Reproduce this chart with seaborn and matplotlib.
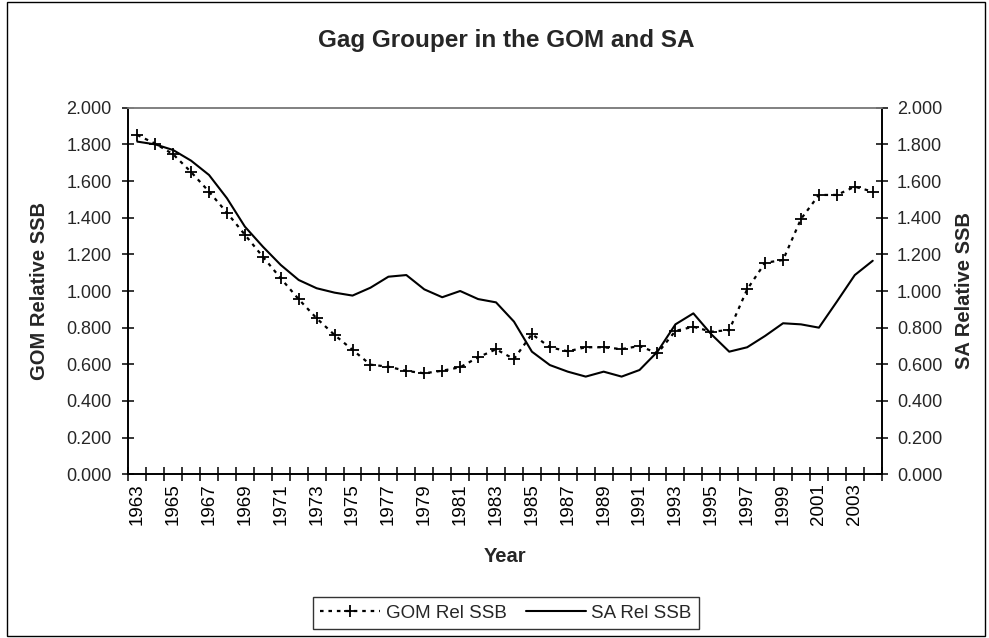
import numpy as np
import pandas as pd
import matplotlib
matplotlib.use("Agg")
import matplotlib.pyplot as plt
from matplotlib.lines import Line2D
from matplotlib.patches import Rectangle
from matplotlib.ticker import FixedLocator, FixedFormatter
import seaborn as sns

# Relative spawning stock biomass of gag grouper, Gulf of Mexico vs South Atlantic
years = list(range(1963, 2005))
gom_rel_ssb = [1.851, 1.804, 1.746, 1.649, 1.542, 1.427, 1.307, 1.187, 1.069, 0.955,
               0.851, 0.760, 0.679, 0.598, 0.587, 0.564, 0.551, 0.565, 0.584, 0.638,
               0.682, 0.629, 0.765, 0.693, 0.671, 0.693, 0.693, 0.683, 0.700, 0.660,
               0.782, 0.805, 0.778, 0.787, 1.009, 1.154, 1.169, 1.393, 1.524, 1.524,
               1.569, 1.542]
sa_rel_ssb = [1.815, 1.800, 1.769, 1.711, 1.633, 1.506, 1.351, 1.242, 1.142, 1.060,
              1.015, 0.991, 0.975, 1.018, 1.078, 1.087, 1.009, 0.966, 1.000, 0.956,
              0.938, 0.833, 0.669, 0.596, 0.560, 0.533, 0.560, 0.533, 0.569, 0.669,
              0.818, 0.878, 0.764, 0.669, 0.693, 0.755, 0.824, 0.818, 0.800, 0.942,
              1.087, 1.165]
y_ticks = [0.0, 0.2, 0.4, 0.6, 0.8, 1.0, 1.2, 1.4, 1.6, 1.8, 2.0]

df = pd.DataFrame({"pos": np.arange(len(years)), "Year": years,
                   "GOM": gom_rel_ssb, "SA": sa_rel_ssb})

sns.set_style("white")
plt.rcParams["font.family"] = ["Liberation Sans", "DejaVu Sans"]

W, H = 989, 638
fig = plt.figure(figsize=(W / 100, H / 100), dpi=100)
ax = fig.add_axes([128.3 / W, 1 - 474.3 / H, (881.7 - 128.3) / W, (474.3 - 107.7) / H])
ax2 = ax.twinx()

sns.lineplot(data=df, x="pos", y="GOM", ax=ax, color="black", linewidth=1.6,
             linestyle=(0, (1.6, 2.2)), marker="+", markersize=8,
             markeredgewidth=1.3, markeredgecolor="black", legend=False)
sns.lineplot(data=df, x="pos", y="SA", ax=ax2, color="black", linewidth=1.5,
             legend=False)

n = len(years)
for a in (ax, ax2):
    a.set_xlim(-0.5, n - 0.5)
    a.set_ylim(0, 2.0)
    a.set_yticks(y_ticks)
    a.set_yticklabels([f"{v:.3f}" for v in y_ticks])
    a.set_xlabel("")
    a.set_ylabel("")
    a.grid(False)
    a.set_facecolor("none")
    for s in ("left", "right", "bottom"):
        a.spines[s].set_color("black")
        a.spines[s].set_linewidth(1.2)
    a.spines["top"].set_color("#808080")
    a.spines["top"].set_linewidth(1.2)

# category labels every other year, tick marks between categories
label_pos = list(range(0, n, 2))
ax.xaxis.set_major_locator(FixedLocator(label_pos))
ax.xaxis.set_major_formatter(FixedFormatter([str(years[i]) for i in label_pos]))
ax.xaxis.set_minor_locator(FixedLocator(np.arange(-0.5, n, 1.0)))
ax.tick_params(axis="x", which="major", length=0, pad=6.5, labelsize=13.5,
               labelrotation=90, colors="black")
ax.tick_params(axis="x", which="minor", direction="inout", length=10, width=1.1,
               color="black", bottom=True)
ax.tick_params(axis="y", which="major", direction="inout", length=8, width=1.1,
               pad=8, labelsize=13, left=True, color="black")
ax2.tick_params(axis="y", which="major", direction="inout", length=8, width=1.1,
                pad=7, labelsize=13, right=True, color="black")
ax2.tick_params(axis="x", which="both", bottom=False, labelbottom=False)

fig.text(506 / W, 1 - 40 / H, "Gag Grouper in the GOM and SA", ha="center",
         va="center", fontsize=17.5, fontweight="bold")
fig.text(40 / W, 1 - 291 / H, "GOM Relative SSB", rotation=90, ha="center",
         va="center", fontsize=14.5, fontweight="bold")
fig.text(964 / W, 1 - 291 / H, "SA Relative SSB", rotation=90, ha="center",
         va="center", fontsize=14.5, fontweight="bold")
fig.text(505 / W, 1 - 557 / H, "Year", ha="center", va="center",
         fontsize=14.5, fontweight="bold")

handles = [
    Line2D([], [], color="black", linewidth=1.6, linestyle=(0, (1.6, 2.2)),
           marker="+", markersize=8, markeredgewidth=1.3),
    Line2D([], [], color="black", linewidth=1.5),
]
leg = fig.legend(handles, ["GOM Rel SSB", "SA Rel SSB"], loc="center",
                 bbox_to_anchor=(506 / W, 1 - 613 / H), ncol=2, frameon=True,
                 fancybox=False, edgecolor="black", fontsize=13.5,
                 handlelength=3.2, handletextpad=0.3, columnspacing=1.0,
                 borderpad=0.4, borderaxespad=0)
leg.get_frame().set_linewidth(1.0)

# outer chart border
fig.patches.append(Rectangle((7 / W, 1 - 636 / H), (985 - 7) / W, (636 - 2) / H,
                             transform=fig.transFigure, fill=False,
                             edgecolor="black", linewidth=1.0))

fig.savefig("out.png", dpi=100, facecolor="white")
